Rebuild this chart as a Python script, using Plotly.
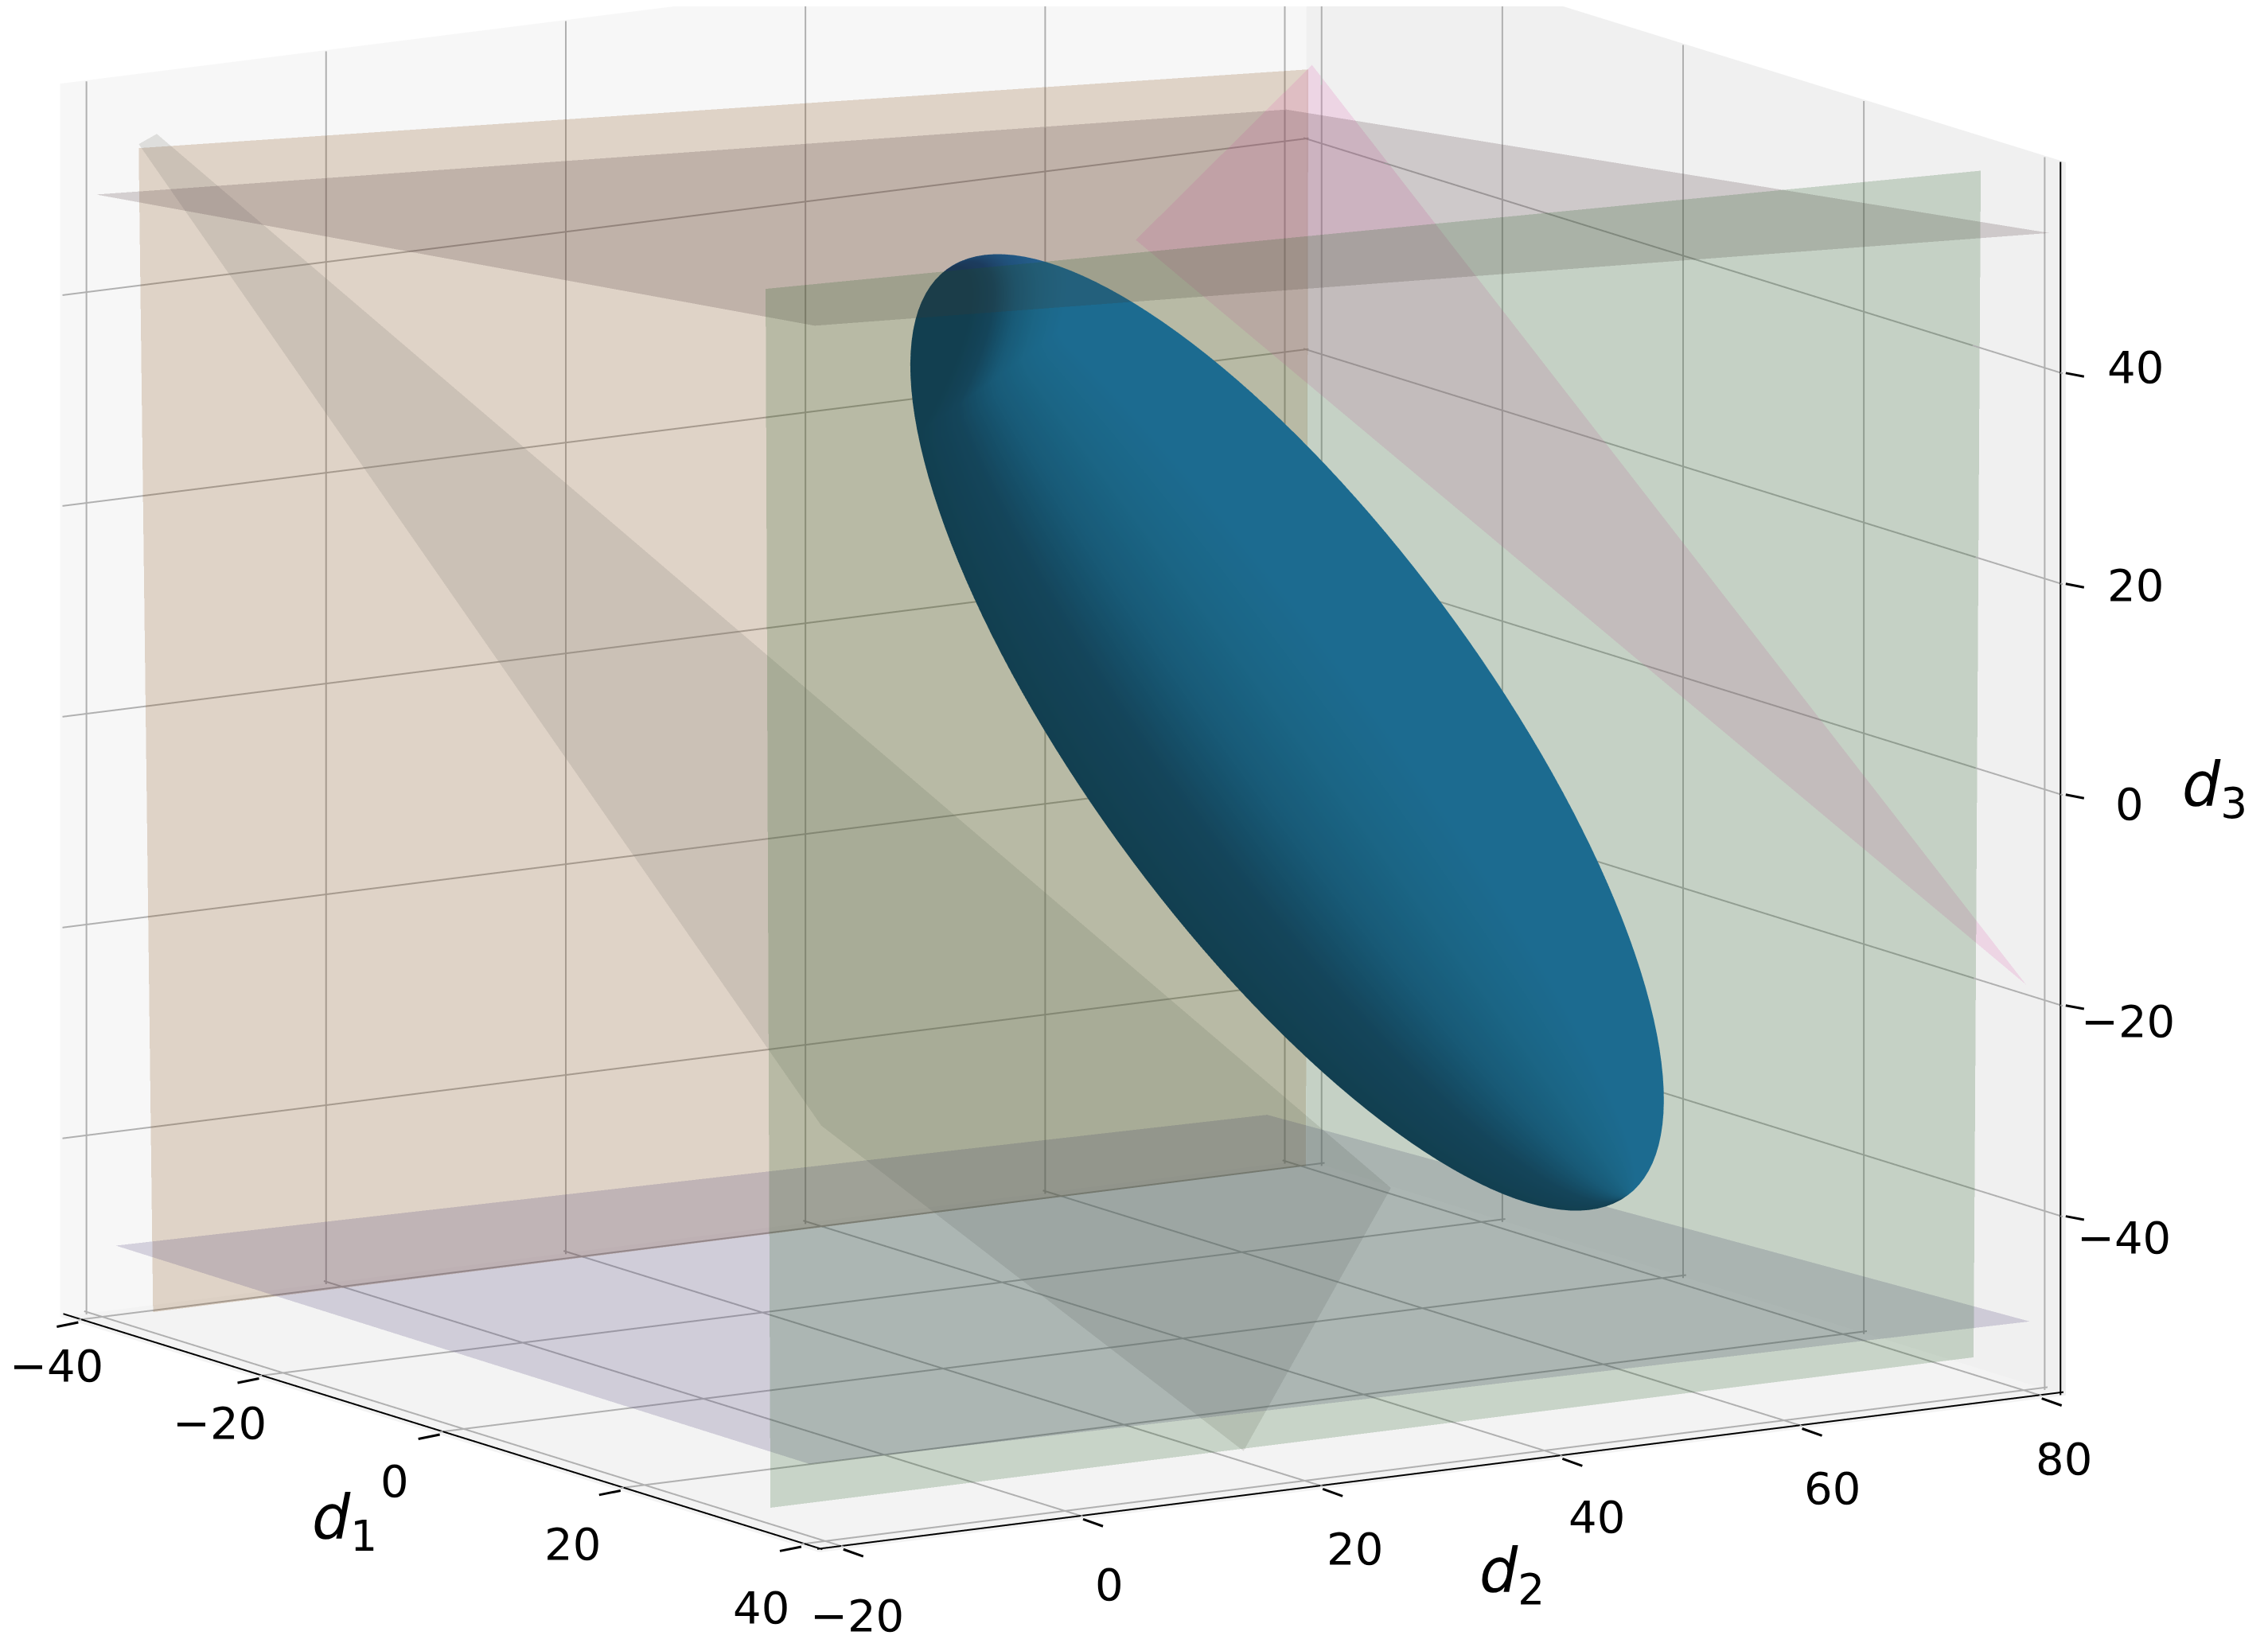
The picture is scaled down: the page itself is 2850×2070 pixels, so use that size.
import numpy as np
import plotly.graph_objects as go

D1_RANGE = [-42, 42]
D2_RANGE = [-22, 82]
D3_RANGE = [-57, 60]
D1_TICKS = [-40, -20, 0, 20, 40]
D2_TICKS = [-20, 0, 20, 40, 60, 80]
D3_TICKS = [-40, -20, 0, 20, 40]

# plane outlines: d1, d2, d3 of each corner
TAN_D1 = [-36.5, -36.5, -36.5, -36.5]
TAN_D2 = [-18.4, 77.8, 78, -19.6]
TAN_D3 = [-55.6, -55.5, 48.5, 55]
GREEN_D1 = [32.6, 32.6, 32.6, 32.6]
GREEN_D2 = [-19, 81.4, 82, -19.4]
GREEN_D3 = [-55.7, -55.8, 56.7, 60]
TOP_D1 = [-40, 39.5, 41.5, -42]
TOP_D2 = [-20.5, -20.5, 81, 80.3]
TOP_D3 = [49.8, 58.5, 53.3, 42.9]
BOTTOM_D1 = [-38.5, 38.5, 40, -40]
BOTTOM_D2 = [-20, -20.2, 80.5, 77.2]
BOTTOM_D3 = [-49.6, -49.8, -50.3, -51.5]
GREY_D1 = [-41, -39, 40, 40, -40]
GREY_D2 = [-16.2, -16.2, 27.2, 14.9, 40]
GREY_D3 = [53.7, 55.2, -30, -53.2, -47.2]
PINK_D1 = [-41, -41, 40]
PINK_D2 = [81.7, 67, 80.2]
PINK_D3 = [47.2, 32.7, -18.3]

ELLIPSOID_CENTER = [0, 48.7, -0.5]
ELLIPSOID_V1 = [0, 28.4, -48]
ELLIPSOID_V2 = [-1.75, 14.8, 8.76]
ELLIPSOID_V3 = [25, -18.35, 8.8]

# label offsets from the axis edge, in pixels of the 2850 x 2070 page
S = 1.8176
D1_SHIFT = [(-15, 30), (-27, 31), (-31, 32), (-33, 37), (-28, 42)]
D2_SHIFT = [(9.5, 46), (18, 45), (22, 41.6), (24, 40), (21, 41), (15.5, 42)]
D3_SHIFT = [(40, 15), (43, 11), (44, 6.5), (48, 1), (48, -4)]
TITLE_SHIFT = [(-66, 60), (-35, 80), (103, -4.5)]

# the lines sit just inside the walls so that the walls do not hide them
INSET = 0.25


def plane(xs, ys, zs, color):
    n = len(xs)
    return go.Mesh3d(x=xs, y=ys, z=zs,
                     i=[0] * (n - 2), j=list(range(1, n - 1)), k=list(range(2, n)),
                     color=color, opacity=0.2, flatshading=True, hoverinfo="skip",
                     lighting=dict(ambient=1, diffuse=0, specular=0, fresnel=0, roughness=1))


def segment(p, q, color, width):
    return go.Scatter3d(x=[p[0], q[0]], y=[p[1], q[1]], z=[p[2], q[2]], mode="lines",
                        line=dict(color=color, width=width), hoverinfo="skip")


u = np.linspace(0, np.pi, 80)
w = np.linspace(0, 2 * np.pi, 120)
U, W = np.meshgrid(u, w)
s1, s2, s3 = np.cos(U), np.sin(U) * np.cos(W), np.sin(U) * np.sin(W)
c, a, b, e = map(np.array, (ELLIPSOID_CENTER, ELLIPSOID_V1, ELLIPSOID_V2, ELLIPSOID_V3))
ex = c[0] + s1 * a[0] + s2 * b[0] + s3 * e[0]
ey = c[1] + s1 * a[1] + s2 * b[1] + s3 * e[1]
ez = c[2] + s1 * a[2] + s2 * b[2] + s3 * e[2]
# shade by longitude round the long axis, darker at its upper tip
shade = np.cos(W) - 1.5 * np.clip(-s1 - 0.8, 0, None) / 0.2

x0, x1 = D1_RANGE
y0, y1 = D2_RANGE
z0, z1 = D3_RANGE
gx0, gy1, gz0 = x0 + INSET, y1 - INSET, z0 + INSET
grid = []
for t in D1_TICKS:
    grid += [((t, y0, gz0), (t, y1, gz0)), ((t, gy1, z0), (t, gy1, z1))]
for t in D2_TICKS:
    grid += [((x0, t, gz0), (x1, t, gz0)), ((gx0, t, z0), (gx0, t, z1))]
for t in D3_TICKS:
    grid += [((gx0, y0, t), (gx0, y1, t)), ((x0, gy1, t), (x1, gy1, t))]
axes_lines = [((x0, y0 + INSET, gz0), (x1, y0 + INSET, gz0)),
              ((x1 - INSET, y0, gz0), (x1 - INSET, y1, gz0)),
              ((x1 - INSET, gy1, z0), (x1 - INSET, gy1, z1))]

fig = go.Figure()
fig.add_trace(go.Surface(x=ex, y=ey, z=ez, surfacecolor=shade, showscale=False, cmin=-1, cmax=1,
                         colorscale=[[0, "#10395d"], [0.18, "#12406a"], [0.36, "#175b8e"],
                                     [0.52, "#1b69a0"], [0.7, "#1c70ad"], [1, "#1c70ad"]],
                         lighting=dict(ambient=1, diffuse=0, specular=0, fresnel=0, roughness=1),
                         hoverinfo="skip"))
fig.add_trace(plane(TAN_D1, TAN_D2, TAN_D3, "#7f4307"))
fig.add_trace(plane(GREY_D1, GREY_D2, GREY_D3, "#7b7972"))
fig.add_trace(plane(PINK_D1, PINK_D2, PINK_D3, "#e169b4"))
fig.add_trace(plane(BOTTOM_D1, BOTTOM_D2, BOTTOM_D3, "#463773"))
fig.add_trace(plane(TOP_D1, TOP_D2, TOP_D3, "#462d32"))
fig.add_trace(plane(GREEN_D1, GREEN_D2, GREEN_D3, "#1b571b"))
for p, q in grid:
    fig.add_trace(segment(p, q, "#b0b0b0", 4))
for p, q in axes_lines:
    fig.add_trace(segment(p, q, "black", 4))


def axis(rng, ticks, wall):
    return dict(title=dict(text=""), range=rng, tickvals=ticks, showticklabels=False,
                ticks="", showline=False, showgrid=False,
                zeroline=False, showspikes=False,
                showbackground=True, backgroundcolor=wall)


def minus(t):
    return str(t).replace("-", "\u2212")


def label(x, y, z, text, shift, size=56):
    return dict(x=x, y=y, z=z, text=text, showarrow=False, xanchor="center", yanchor="middle",
                xshift=shift[0] * S, yshift=-shift[1] * S,
                font=dict(family="DejaVu Sans", size=size, color="black"))


def tick(x, y, z, ax, ay):
    return dict(x=x, y=y, z=z, text=" ", showarrow=True, arrowhead=0, arrowwidth=3,
                arrowcolor="black", ax=ax, ay=ay, standoff=0)


annotations = []
for t, sh in zip(D1_TICKS, D1_SHIFT):
    annotations.append(label(t, y0, z0, minus(t), sh))
    annotations.append(tick(t, y0, z0, -30, 6))
for t, sh in zip(D2_TICKS, D2_SHIFT):
    annotations.append(label(x1, t, z0, minus(t), sh))
    annotations.append(tick(x1, t, z0, 28, 10))
for t, sh in zip(D3_TICKS, D3_SHIFT):
    annotations.append(label(x1, y1, t, minus(t), sh))
    annotations.append(tick(x1, y1, t, 26, 5))
annotations.append(label(0, y0, z0, "<i>d</i><sub>1</sub>", TITLE_SHIFT[0], 76))
annotations.append(label(x1, 40, z0, "<i>d</i><sub>2</sub>", TITLE_SHIFT[1], 76))
annotations.append(label(x1, y1, 0, "<i>d</i><sub>3</sub>", TITLE_SHIFT[2], 76))

az, el, r = np.radians(-32.5), np.radians(11.4), 3.0
direction = np.array([np.cos(el) * np.cos(az), np.cos(el) * np.sin(az), np.sin(el)])
center = np.array([0.0647, 0.0702, -0.1085])
eye = center + r * direction
GROW = 1.747
fig.update_layout(
    width=2850, height=2070, margin=dict(l=0, r=0, t=0, b=0),
    paper_bgcolor="white", showlegend=False,
    scene=dict(
        domain=dict(x=[0, 1], y=[0, 1]),
        xaxis=axis(D1_RANGE, D1_TICKS, "#f7f7f7"),
        yaxis=axis(D2_RANGE, D2_TICKS, "#f0f0f0"),
        zaxis=axis(D3_RANGE, D3_TICKS, "#f3f3f3"),
        aspectmode="manual",
        aspectratio=dict(x=0.982 * GROW, y=1.027 * GROW, z=0.852 * GROW * 117 / 114),
        annotations=annotations,
        camera=dict(projection=dict(type="orthographic"), up=dict(x=0, y=0, z=1),
                    center=dict(x=center[0], y=center[1], z=center[2]),
                    eye=dict(x=eye[0], y=eye[1], z=eye[2])),
    ),
)
fig.write_html("out.html")
